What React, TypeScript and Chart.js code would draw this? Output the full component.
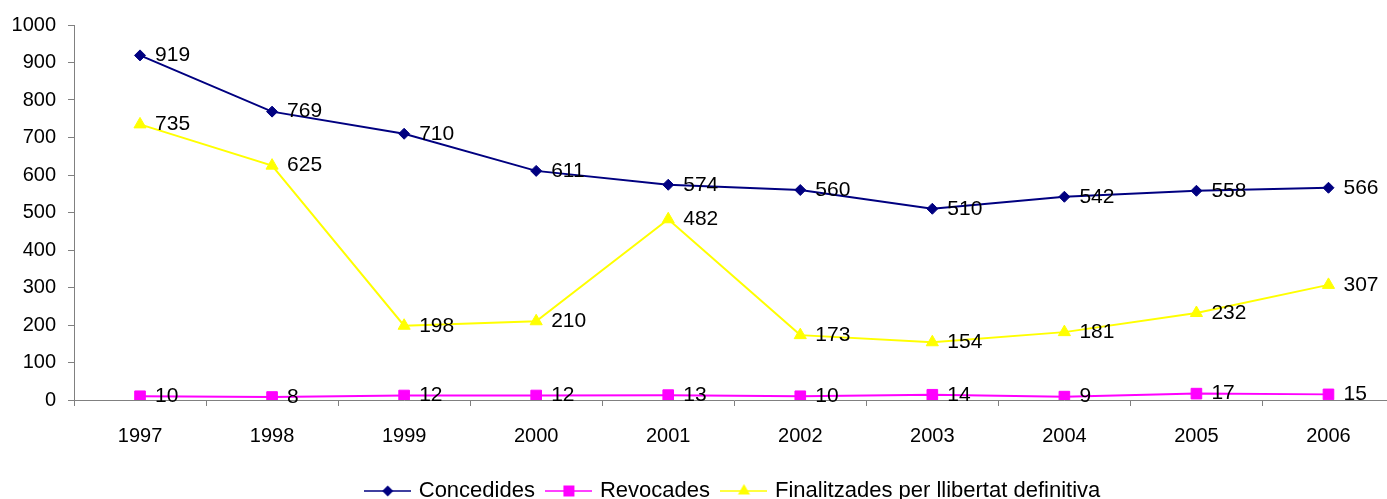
import React, { useEffect, useRef } from 'react';
import { Chart, registerables } from 'chart.js';

Chart.register(...registerables);

const categories = ['1997', '1998', '1999', '2000', '2001', '2002', '2003', '2004', '2005', '2006'];
const concedides = [919, 769, 710, 611, 574, 560, 510, 542, 558, 566];
const revocades = [10, 8, 12, 12, 13, 10, 14, 9, 17, 15];
const finalitzades = [735, 625, 198, 210, 482, 173, 154, 181, 232, 307];
const seriesLabels = ['Concedides', 'Revocades', 'Finalitzades per llibertat definitiva'];
const yMin = 0;
const yMax = 1000;
const yStep = 100;

const FONT = '"Liberation Sans", Arial, sans-serif';
const NAVY = '#000080';
const MAGENTA = '#FF00FF';
const YELLOW = '#FFFF00';
const CANVAS_W = 1403;

function makeIcon(color: string, kind: string): HTMLCanvasElement {
  const c = document.createElement('canvas');
  const w = 47;
  const h = 16;
  c.width = w;
  c.height = h;
  const ctx = c.getContext('2d') as CanvasRenderingContext2D;
  const cx = w / 2;
  const cy = h / 2;
  ctx.strokeStyle = color;
  ctx.lineWidth = 1.6;
  ctx.beginPath();
  ctx.moveTo(0, cy);
  ctx.lineTo(w, cy);
  ctx.stroke();
  ctx.fillStyle = color;
  ctx.beginPath();
  if (kind === 'diamond') {
    const r = 5.5;
    ctx.moveTo(cx - r, cy);
    ctx.lineTo(cx, cy - r);
    ctx.lineTo(cx + r, cy);
    ctx.lineTo(cx, cy + r);
    ctx.closePath();
  } else if (kind === 'square') {
    const s = 5.5;
    ctx.rect(cx - s, cy - s, 2 * s, 2 * s);
  } else {
    const r = 7;
    ctx.moveTo(cx, cy - r);
    ctx.lineTo(cx + r * 0.866, cy + r * 0.5);
    ctx.lineTo(cx - r * 0.866, cy + r * 0.5);
    ctx.closePath();
  }
  ctx.fill();
  return c;
}

const valueLabels = {
  id: 'valueLabels',
  afterDatasetsDraw(chart: any) {
    const ctx = chart.ctx;
    ctx.save();
    ctx.font = `21px ${FONT}`;
    ctx.fillStyle = '#000';
    ctx.textAlign = 'left';
    ctx.textBaseline = 'middle';
    chart.data.datasets.forEach((ds: any, i: number) => {
      const meta = chart.getDatasetMeta(i);
      meta.data.forEach((pt: any, j: number) => {
        ctx.fillText(String(ds.data[j]), pt.x + 15, pt.y);
      });
    });
    ctx.restore();
  },
};

const legendShift = {
  id: 'legendShift',
  afterLayout(chart: any) {
    const lg = chart.legend;
    if (!lg) return;
    const dx = 734 - CANVAS_W / 2;
    const dy = 13;
    lg.left += dx;
    lg.right += dx;
    lg.top += dy;
    lg.bottom += dy;
  },
};

export default function App() {
  const ref = useRef<HTMLCanvasElement | null>(null);

  useEffect(() => {
    if (!ref.current) return;
    const icons = [makeIcon(NAVY, 'diamond'), makeIcon(MAGENTA, 'square'), makeIcon(YELLOW, 'triangle')];
    const chart = new Chart(ref.current, {
      type: 'line',
      data: {
        labels: categories,
        datasets: [
          {
            label: seriesLabels[0],
            data: concedides,
            borderColor: NAVY,
            backgroundColor: NAVY,
            borderWidth: 2,
            pointStyle: 'rectRot',
            pointRadius: 5.5,
            pointBorderWidth: 1,
            tension: 0,
          },
          {
            label: seriesLabels[1],
            data: revocades,
            borderColor: MAGENTA,
            backgroundColor: MAGENTA,
            borderWidth: 2,
            pointStyle: 'rect',
            pointRadius: 7.5,
            pointBorderWidth: 1,
            tension: 0,
          },
          {
            label: seriesLabels[2],
            data: finalitzades,
            borderColor: YELLOW,
            backgroundColor: YELLOW,
            borderWidth: 2,
            pointStyle: 'triangle',
            pointRadius: 7,
            pointBorderWidth: 1,
            tension: 0,
          },
        ],
      },
      options: {
        responsive: false,
        animation: false,
        layout: { padding: { top: 25, left: 0, right: 0, bottom: 0 } },
        plugins: {
          tooltip: { enabled: false },
          legend: {
            position: 'bottom',
            labels: {
              usePointStyle: true,
              pointStyleWidth: 40,
              padding: 14,
              color: '#000',
              font: { family: FONT, size: 22 },
              generateLabels: (c: any) =>
                c.data.datasets.map((ds: any, i: number) => ({
                  text: ds.label,
                  pointStyle: icons[i],
                  fillStyle: ds.borderColor,
                  strokeStyle: ds.borderColor,
                  lineWidth: 0,
                  hidden: false,
                  datasetIndex: i,
                  fontColor: '#000',
                })),
            },
          },
        },
        scales: {
          x: {
            offset: true,
            grid: {
              display: true,
              drawOnChartArea: false,
              drawTicks: true,
              tickLength: 6,
              color: '#808080',
              offset: true,
            },
            border: { display: true, color: '#808080', width: 1 },
            ticks: {
              color: '#000',
              font: { family: FONT, size: 20 },
              padding: 18,
              maxRotation: 0,
              autoSkip: false,
            },
            afterFit: (s: any) => {
              s.height = 53;
            },
          },
          y: {
            min: yMin,
            max: yMax,
            grid: {
              display: true,
              drawOnChartArea: false,
              drawTicks: true,
              tickLength: 6,
              color: '#808080',
            },
            border: { display: true, color: '#808080', width: 1 },
            ticks: {
              stepSize: yStep,
              color: '#000',
              font: { family: FONT, size: 20 },
              padding: 12,
              callback: (v: any) => String(v),
            },
            afterFit: (s: any) => {
              s.width = 74;
            },
          },
        },
      },
      plugins: [valueLabels, legendShift],
    } as any);
    return () => chart.destroy();
  }, []);

  return (
    <div
      style={{
        position: 'fixed',
        left: 0,
        top: 0,
        width: 1387,
        height: 499,
        overflow: 'hidden',
        background: '#fff',
      }}
    >
      <canvas ref={ref} width={CANVAS_W} height={499} style={{ display: 'block' }} />
    </div>
  );
}
